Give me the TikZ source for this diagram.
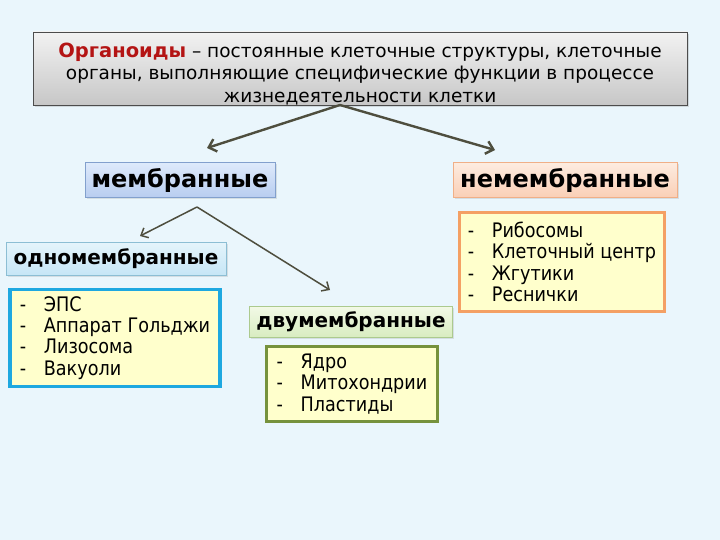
\documentclass[tikz,border=0pt]{standalone}
\usepackage{fontspec}
\setmainfont{DejaVu Sans}
\newfontfamily\listfont{DejaVu Sans}[FakeStretch=0.88]
\usetikzlibrary{arrows.meta,shadows}
\definecolor{bgblue}{RGB}{234,246,252}
\definecolor{arrowgrey}{RGB}{78,78,62}
\definecolor{termred}{RGB}{180,20,20}
\definecolor{listfill}{RGB}{255,255,204}
\definecolor{cyanedge}{RGB}{30,168,224}
\definecolor{greenedge}{RGB}{118,146,60}
\definecolor{orangeedge}{RGB}{244,160,100}
\newcommand{\itm}[1]{\makebox[24pt][l]{-}#1}
\tikzset{
	header/.style = {draw=black!70, top color=black!5, bottom color=black!22, minimum width=654pt, minimum height=73pt, inner ysep=0pt, text width=630pt, align=flush center, font=\fontsize{18.5}{22.5}\selectfont, drop shadow={opacity=0.25, shadow xshift=2pt, shadow yshift=-2pt}},
	%,
	kind/.style = {draw, rectangle, inner sep=2pt, font=\bfseries\fontsize{24}{26}\selectfont, drop shadow={opacity=0.2, shadow xshift=1.5pt, shadow yshift=-1.5pt}},
	subkind/.style = {kind, font=\bfseries\fontsize{20}{22}\selectfont},
	items/.style = {draw, line width=3.5pt, fill=listfill, rectangle, align=left, inner xsep=5pt, inner ysep=4pt, font=\listfont\fontsize{20}{21.3}\selectfont},
	link/.style = {draw=arrowgrey, line width=2.4pt, -{Straight Barb[length=7pt,width=13pt]}},
	sublink/.style = {draw=arrowgrey, line width=1.5pt, -{Straight Barb[length=6pt,width=11pt]}}
}
\begin{document}
\begin{tikzpicture}[x=1pt, y=-1pt]
    \fill [bgblue] (0,0) rectangle (720,540);
    \useasboundingbox (0,0) rectangle (720,540);
    % the definition on top
    \node [header] (organoids) at (360,68.5)
        {\rule{0pt}{25pt}{\fontsize{19.5}{22.5}\selectfont\textbf{\color{termred}Органоиды}} – постоянные клеточные структуры, клеточные органы, выполняющие специфические функции в процессе жизнедеятельности клетки};
    % two main groups
    \node [kind, draw={rgb,255:red,130;green,160;blue,205}, top color={rgb,255:red,222;green,234;blue,251}, bottom color={rgb,255:red,184;green,205;blue,240}, minimum width=190pt, minimum height=35pt] (membr) at (180,180) {мембранные};
    \node [kind, draw={rgb,255:red,240;green,175;blue,135}, top color={rgb,255:red,253;green,236;blue,224}, bottom color={rgb,255:red,250;green,207;blue,182}, minimum width=224pt, minimum height=35pt] (nonmembr) at (565,180) {немембранные};
    % membrane organelles split in two
    \node [subkind, draw={rgb,255:red,140;green,190;blue,212}, top color={rgb,255:red,228;green,244;blue,251}, bottom color={rgb,255:red,198;green,230;blue,246}, minimum width=220pt, minimum height=33pt] (single) at (116,259) {одномембранные};
    \node [subkind, draw={rgb,255:red,172;green,202;blue,142}, top color={rgb,255:red,242;green,249;blue,230}, bottom color={rgb,255:red,216;green,236;blue,192}, minimum width=203pt, minimum height=31pt] (double) at (351,322) {двумембранные};
    % the lists
    \node [items, draw=cyanedge, minimum width=210pt, minimum height=97pt] (singlelist) at (115,338)
        {\itm{ЭПС}\\ \itm{Аппарат Гольджи}\\ \itm{Лизосома}\\ \itm{Вакуоли}};
    \node [items, draw=greenedge, minimum width=171pt, minimum height=75pt] (doublelist) at (352,384)
        {\itm{Ядро}\\ \itm{Митохондрии}\\ \itm{Пластиды}};
    \node [items, draw=orangeedge, minimum width=205pt, minimum height=99pt] (nonlist) at (562,262)
        {\itm{Рибосомы}\\ \itm{Клеточный центр}\\ \itm{Жгутики}\\ \itm{Реснички}};
    % arrow ends
    \coordinate (fork1) at (340,105);
    \coordinate (membr-in) at (207,148);
    \coordinate (nonmembr-in) at (495,150);
    \coordinate (fork2) at (197,207);
    \coordinate (single-in) at (140,236);
    \coordinate (double-in) at (330,290);
    \draw [link] (fork1) -- (membr-in);
    \draw [link] (fork1) -- (nonmembr-in);
    \draw [sublink] (fork2) -- (single-in);
    \draw [sublink] (fork2) -- (double-in);
\end{tikzpicture}
\end{document}
